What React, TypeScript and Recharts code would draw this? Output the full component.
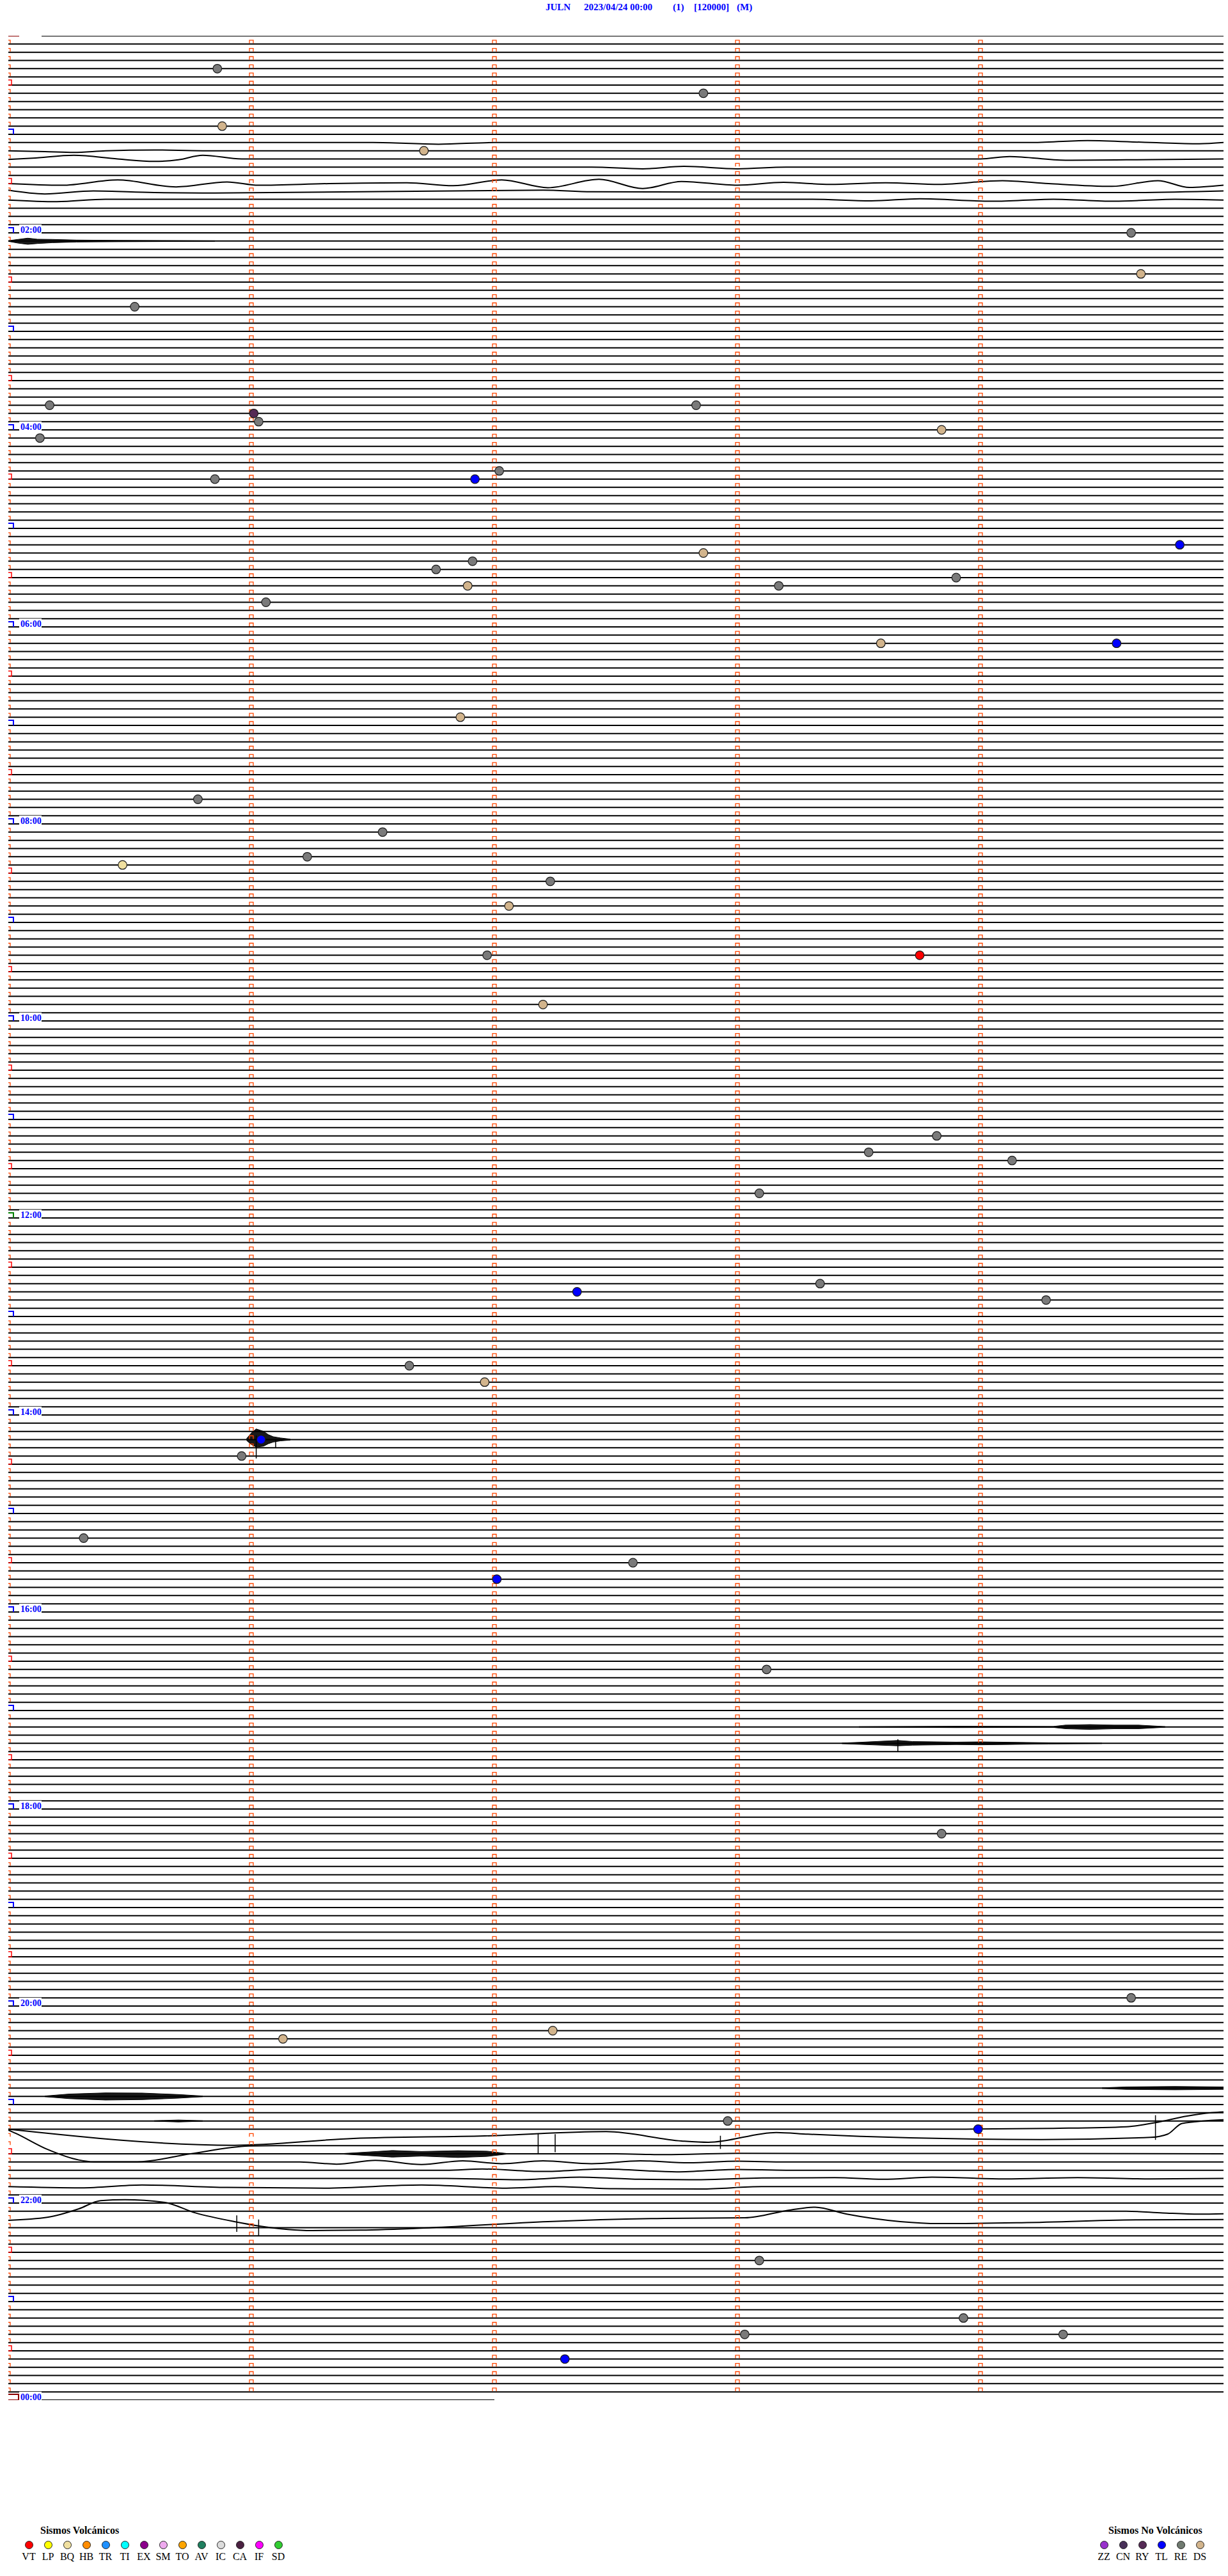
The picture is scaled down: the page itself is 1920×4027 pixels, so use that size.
import React from "react";
import { ComposedChart, Line, Area, Scatter, XAxis, YAxis } from "recharts";

// ---------- layout constants ----------
const W = 1920;
const H = 4027;
const ROW_COUNT = 288; // 5-minute rows for 24 h
const ROW_MINUTES = 5;

// ---------- data ----------
const tickMinutes = [0, 1, 2, 3, 4];
const hourLabels = ["00:00", "02:00", "04:00", "06:00", "08:00", "10:00", "12:00", "14:00", "16:00", "18:00", "20:00", "22:00", "00:00"];
const lastRowEndMinute = 2;

// long-period waveforms: row, [minute, offset in rows (+ = down)]
const waveRows: { row: number; pts: number[][] }[] = [
  { row: 13, pts: [[0, 0], [1.5, 0], [1.77, 0.2], [2.0, 0], [4.2, 0], [4.44, -0.25], [4.7, 0], [4.9, 0.15], [5, 0]] },
  { row: 14, pts: [[0, 0], [0.15, 0.1], [0.27, 0.2], [0.4, 0], [0.6, -0.1], [0.8, 0], [5, 0]] },
  { row: 15, pts: [[0, 0.05], [0.1, -0.1], [0.27, -0.45], [0.45, 0], [0.6, 0.3], [0.7, 0.1], [0.8, -0.45], [0.96, 0], [4.0, 0], [4.12, -0.3], [4.35, 0.15], [4.6, 0.1], [5, 0]] },
  { row: 16, pts: [[0, 0], [2.4, 0], [2.61, 0.2], [2.78, -0.1], [3.0, 0.2], [3.2, 0], [5, 0]] },
  { row: 18, pts: [[0, 0], [0.22, 0.2], [0.45, -0.45], [0.69, 0.4], [0.9, -0.2], [1.03, 0.2], [1.32, 0], [1.64, -0.1], [1.83, 0.26], [2.03, -0.45], [2.22, 0.5], [2.43, -0.52], [2.61, 0.6], [2.77, -0.26], [3.0, 0.2], [3.19, -0.15], [3.38, 0.1], [3.61, -0.1], [3.83, 0.1], [4.09, -0.36], [4.28, 0], [4.54, 0.34], [4.73, -0.36], [4.86, 0.47], [5, 0.2]] },
  { row: 19, pts: [[0, -0.2], [0.15, 0.26], [0.35, -0.1], [0.6, 0.1], [0.85, 0.15], [2.2, -0.2], [2.4, 0], [4.6, 0.1], [5, -0.1]] },
  { row: 20, pts: [[0, 0], [0.2, 0.2], [0.4, -0.1], [3.3, -0.1], [3.55, 0.1], [3.75, -0.15], [4.05, 0.15], [4.3, -0.1], [4.55, 0.15], [4.8, -0.1], [5, 0]] },
  { row: 255, pts: [[0, 0], [3.9, 0], [4.3, -0.1], [4.6, -0.3], [4.72, -0.8], [4.85, -1.6], [4.95, -2.0], [5, -2.1]] },
  { row: 256, pts: [[0, -1.0], [0.93, 0.96], [1.42, 0.13], [1.96, -0.18], [2.46, -0.7], [2.77, 0.44], [2.88, 0.6], [3.16, -0.6], [3.29, -0.39], [3.51, -0.13], [4.25, 0.26], [4.7, 0], [4.77, -0.4], [4.83, -1.7], [5, -2.15]] },
  { row: 257, pts: [[0, -1.9], [0.03, -1.5], [0.16, 0.45], [0.29, 1.75], [0.35, 1.97], [0.53, 1.97], [0.75, 1.0], [0.99, 0.05], [1.1, 0], [5, 0]] },
  { row: 258, pts: [[0, 0], [2.5, 0], [2.7, 0.1], [3.0, -0.05], [5, 0]] },
  { row: 259, pts: [[0, 0], [1.2, 0], [1.35, 0.26], [1.51, -0.2], [1.7, 0.3], [1.87, -0.15], [2.03, 0.2], [2.2, -0.15], [2.4, 0.2], [2.6, -0.15], [2.8, 0.1], [3.0, -0.1], [3.2, 0], [5, 0]] },
  { row: 260, pts: [[0, 0], [1.8, 0], [1.95, -0.15], [2.2, 0.15], [2.45, -0.15], [2.75, 0.2], [3.0, -0.1], [3.2, 0], [5, 0]] },
  { row: 261, pts: [[0, 0], [1.8, 0], [2.1, 0.15], [2.35, -0.15], [2.6, 0.1], [2.85, 0.15], [3.1, -0.05], [3.4, -0.1], [3.6, 0.1], [3.8, -0.15], [4.1, 0.05], [4.4, -0.1], [4.7, 0.05], [5, 0]] },
  { row: 262, pts: [[0, 0], [0.3, 0.15], [0.55, -0.2], [0.9, 0.1], [1.3, 0.18], [1.7, -0.2], [2.05, 0.18], [2.25, 0], [2.5, 0.25], [2.85, 0.28], [3.1, 0], [5, 0]] },
  { row: 265, pts: [[0, 0], [4.6, 0], [4.75, 0.2], [4.9, 0.35], [5, 0.3]] },
  { row: 266, pts: [[0, 0.1], [0.16, -0.26], [0.29, -1.3], [0.38, -2.3], [0.48, -2.4], [0.64, -2.1], [0.77, -0.8], [0.93, 0.26], [1.03, 0.78], [1.25, 1.35], [1.45, 1.3], [1.74, 1.0], [2.22, 0.26], [2.7, -0.13], [3.03, -0.2], [3.22, -1.17], [3.32, -1.5], [3.45, -0.65], [3.67, 0.26], [3.83, 0.5], [4.15, 0.4], [4.64, 0.05], [5, 0]] },
];

// high-frequency bursts: row, [minute, up, down] in rows
const bursts: { row: number; pts: number[][] }[] = [
  { row: 25, pts: [[0.0, 0.04, 0.04], [0.04, 0.2, 0.25], [0.08, 0.35, 0.4], [0.12, 0.22, 0.3], [0.18, 0.2, 0.2], [0.28, 0.12, 0.12], [0.45, 0.08, 0.08], [0.7, 0.05, 0.05], [0.85, 0.03, 0.03]] },
  { row: 171, pts: [[0.98, 0.1, 0.1], [1.0, 0.8, 0.6], [1.02, 1.3, 0.9], [1.05, 1.0, 0.8], [1.07, 0.6, 0.5], [1.09, 0.35, 0.3], [1.12, 0.2, 0.15], [1.16, 0.06, 0.06]] },
  { row: 206, pts: [[3.5, 0.03, 0.03], [3.9, 0.08, 0.08], [4.3, 0.06, 0.06], [4.35, 0.22, 0.22], [4.45, 0.28, 0.3], [4.55, 0.22, 0.22], [4.65, 0.22, 0.22], [4.76, 0.04, 0.04]] },
  { row: 208, pts: [[3.43, 0.04, 0.04], [3.5, 0.12, 0.12], [3.66, 0.35, 0.3], [3.72, 0.22, 0.22], [3.9, 0.15, 0.15], [4.0, 0.18, 0.18], [4.1, 0.14, 0.14], [4.28, 0.07, 0.07], [4.5, 0.03, 0.03]] },
  { row: 250, pts: [[4.5, 0.04, 0.04], [4.6, 0.15, 0.15], [4.8, 0.2, 0.2], [5.0, 0.15, 0.15]] },
  { row: 251, pts: [[0.15, 0.04, 0.04], [0.25, 0.28, 0.28], [0.4, 0.42, 0.45], [0.55, 0.4, 0.4], [0.7, 0.22, 0.22], [0.8, 0.04, 0.04]] },
  { row: 254, pts: [[0.6, 0.03, 0.03], [0.7, 0.12, 0.12], [0.8, 0.03, 0.03]] },
  { row: 258, pts: [[1.38, 0.04, 0.04], [1.5, 0.25, 0.25], [1.58, 0.4, 0.4], [1.7, 0.28, 0.28], [1.85, 0.38, 0.45], [1.97, 0.32, 0.32], [2.05, 0.04, 0.04]] },
];

// isolated spikes: minute, from row, to row
const spikes = [
  [1.02, 170.5, 173.3], [1.1, 171, 172], [3.66, 207.5, 209], [2.18, 255.5, 258.0], [2.25, 255.6, 257.8],
  [2.93, 255.8, 257.4], [4.72, 253.3, 256.3], [0.94, 265.5, 267.5], [1.03, 266, 268],
];

// classified events: minute within row, row, type
const events: { m: number; row: number; type: string }[] = [
  { m: 0.86, row: 4, type: "RE" }, { m: 2.86, row: 7, type: "RE" }, { m: 0.88, row: 11, type: "DS" },
  { m: 1.71, row: 14, type: "DS" }, { m: 4.62, row: 24, type: "RE" }, { m: 4.66, row: 29, type: "DS" },
  { m: 0.52, row: 33, type: "RE" }, { m: 0.17, row: 45, type: "RE" }, { m: 2.83, row: 45, type: "RE" },
  { m: 1.01, row: 46, type: "RY" }, { m: 1.03, row: 47, type: "RE" }, { m: 0.13, row: 49, type: "RE" },
  { m: 3.84, row: 48, type: "DS" }, { m: 2.02, row: 53, type: "RE" }, { m: 0.85, row: 54, type: "RE" },
  { m: 1.92, row: 54, type: "TL" }, { m: 4.82, row: 62, type: "TL" }, { m: 2.86, row: 63, type: "DS" },
  { m: 1.91, row: 64, type: "RE" }, { m: 1.76, row: 65, type: "RE" }, { m: 1.89, row: 67, type: "DS" },
  { m: 3.17, row: 67, type: "RE" }, { m: 3.9, row: 66, type: "RE" }, { m: 1.06, row: 69, type: "RE" },
  { m: 3.59, row: 74, type: "DS" }, { m: 4.56, row: 74, type: "TL" }, { m: 1.86, row: 83, type: "DS" },
  { m: 0.78, row: 93, type: "RE" }, { m: 1.54, row: 97, type: "RE" }, { m: 1.23, row: 100, type: "RE" },
  { m: 0.47, row: 101, type: "BQ" }, { m: 2.23, row: 103, type: "RE" }, { m: 2.06, row: 106, type: "DS" },
  { m: 1.97, row: 112, type: "RE" }, { m: 3.75, row: 112, type: "VT" }, { m: 2.2, row: 118, type: "DS" },
  { m: 3.82, row: 134, type: "RE" }, { m: 3.54, row: 136, type: "RE" }, { m: 4.13, row: 137, type: "RE" },
  { m: 3.09, row: 141, type: "RE" }, { m: 3.34, row: 152, type: "RE" }, { m: 2.34, row: 153, type: "TL" },
  { m: 4.27, row: 154, type: "RE" }, { m: 1.65, row: 162, type: "RE" }, { m: 1.96, row: 164, type: "DS" },
  { m: 1.04, row: 171, type: "TL" }, { m: 0.96, row: 173, type: "RE" }, { m: 0.31, row: 183, type: "RE" },
  { m: 2.57, row: 186, type: "RE" }, { m: 2.01, row: 188, type: "TL" }, { m: 3.12, row: 199, type: "RE" },
  { m: 3.84, row: 219, type: "RE" }, { m: 4.62, row: 239, type: "RE" }, { m: 1.13, row: 244, type: "DS" },
  { m: 2.24, row: 243, type: "DS" }, { m: 2.96, row: 254, type: "RE" }, { m: 3.99, row: 255, type: "TL" },
  { m: 3.09, row: 271, type: "RE" }, { m: 3.93, row: 278, type: "RE" }, { m: 4.34, row: 280, type: "RE" },
  { m: 3.03, row: 280, type: "RE" }, { m: 2.29, row: 283, type: "TL" },
];

const volcanicCodes = ["VT", "LP", "BQ", "HB", "TR", "TI", "EX", "SM", "TO", "AV", "IC", "CA", "IF", "SD"];
const volcanicColors = ["#ff0000", "#ffff00", "#f0e0a0", "#ff8c00", "#1e90ff", "#00ffff", "#8b008b", "#eeaaee", "#ffa500", "#1f7f5f", "#dcdcdc", "#4b2142", "#ff00ff", "#32cd32"];
const nonVolcanicCodes = ["ZZ", "CN", "RY", "TL", "RE", "DS"];
const nonVolcanicColors = ["#9932cc", "#483058", "#552a55", "#0000ff", "#707a70", "#d2b48c"];

const typeColor: Record<string, string> = {};
volcanicCodes.forEach((c, i) => (typeColor[c] = volcanicColors[i]));
nonVolcanicCodes.forEach((c, i) => (typeColor[c] = nonVolcanicColors[i]));
typeColor.RE = "#7a7a7a";

// ---------- derived chart data ----------
const waveSet = new Set(waveRows.map((w) => w.row));
const baseLineData: { x: number; y: number | null }[] = [];
for (let r = 0; r <= ROW_COUNT; r++) {
  if (waveSet.has(r)) continue;
  const end = r === ROW_COUNT ? lastRowEndMinute : ROW_MINUTES;
  baseLineData.push({ x: 0, y: r }, { x: end, y: r }, { x: end, y: null });
}

const tickData: { x: number; y: number; kind: string }[] = [];
for (let r = 0; r < ROW_COUNT; r++) {
  tickMinutes.forEach((m) => {
    if (m === 0 && r % 12 === 0) return;
    tickData.push({ x: m, y: r, kind: m === 0 && r % 12 === 6 ? "half" : "tick" });
  });
}

const hourBoxData: { x: number; y: number; hour: number }[] = [];
for (let r = 0; r <= ROW_COUNT; r += 12) hourBoxData.push({ x: 0, y: r, hour: r / 12 });

const labelData = hourLabels.map((t, i) => ({ x: 0, y: i * 24, text: t }));
const eventData = events.map((e) => ({ x: e.m, y: e.row, type: e.type }));

// ---------- shapes ----------
const TickShape = (p: any) => {
  const { cx, cy, payload } = p;
  if (payload.kind === "half") {
    return <rect x={cx - 3} y={cy - 8} width={8} height={8} fill="none" stroke="#ff0000" strokeWidth={1.5} />;
  }
  return <path d={`M${cx - 3},${cy - 1} V${cy - 6} H${cx + 3} V${cy - 1}`} fill="none" stroke="#ff4500" strokeWidth={1.3} />;
};

const HourBoxShape = (p: any) => {
  const { cx, cy, payload } = p;
  const h = payload.hour;
  if (h % 24 === 0) {
    return <rect x={cx - 3} y={cy - 9} width={19} height={9} fill="#fff" stroke="#8b0000" strokeWidth={2} />;
  }
  const col = h === 12 ? "#008000" : "#0000ff";
  return <path d={`M${cx - 4},${cy} V${cy - 8} H${cx + 8} V${cy}`} fill="none" stroke={col} strokeWidth={2} />;
};

const LabelShape = (p: any) => {
  const { cx, cy, payload } = p;
  return (
    <g>
      <rect x={cx + 17} y={cy - 13} width={35} height={15} fill="#fff" />
      <text x={cx + 19} y={cy} fill="#0000ff" fontFamily="'Liberation Serif', serif" fontWeight="bold" fontSize={14}>
        {payload.text}
      </text>
    </g>
  );
};

const EventShape = (p: any) => {
  const { cx, cy, payload } = p;
  return <circle cx={cx} cy={cy} r={6.8} fill={typeColor[payload.type]} stroke="#1a1a1a" strokeWidth={1.2} />;
};

// ---------- legend ----------
const serif = "'Liberation Serif', 'Times New Roman', serif";

const LegendGroup = ({ title, titleLeft, codes, colors, firstX }: any) => (
  <>
    <div style={{ position: "absolute", left: titleLeft, top: 3948, fontFamily: serif, fontWeight: "bold", fontSize: 16, lineHeight: "16px", whiteSpace: "nowrap" }}>
      {title}
    </div>
    {codes.map((c: string, i: number) => (
      <React.Fragment key={c}>
        <div
          style={{
            position: "absolute", left: firstX + i * 30 - 6.5, top: 3971.5, width: 13, height: 13, borderRadius: "50%",
            background: colors[i], boxSizing: "border-box", border: "1px solid #222",
          }}
        />
        <div style={{ position: "absolute", left: firstX + i * 30 - 15, width: 30, top: 3989, textAlign: "center", fontFamily: serif, fontSize: 16, lineHeight: "16px" }}>
          {c}
        </div>
      </React.Fragment>
    ))}
  </>
);

const titleParts = [
  { t: "JULN", x: 853 }, { t: "2023/04/24 00:00", x: 913 }, { t: "(1)", x: 1052 }, { t: "[120000]", x: 1085 }, { t: "(M)", x: 1152 },
];

export default function App() {
  return (
    <div style={{ position: "absolute", left: 0, top: 0, width: W, height: H, background: "#fff", overflow: "hidden" }}>
      {titleParts.map((p) => (
        <div key={p.t} style={{ position: "absolute", left: p.x, top: 4, fontFamily: serif, fontWeight: "bold", fontSize: 15, lineHeight: "15px", color: "#0000ff", whiteSpace: "nowrap" }}>
          {p.t}
        </div>
      ))}
      <div style={{ position: "absolute", left: 0, top: 0 }}>
        <ComposedChart width={W} height={H} margin={{ top: 56, right: 7, bottom: 275, left: 13 }}>
          <XAxis type="number" dataKey="x" domain={[0, ROW_MINUTES]} hide allowDataOverflow />
          <YAxis type="number" dataKey="y" domain={[0, ROW_COUNT]} reversed hide allowDataOverflow />
          <Line data={baseLineData} dataKey="y" type="linear" stroke="#000" strokeWidth={2} dot={false} activeDot={false} connectNulls={false} isAnimationActive={false} />
          {waveRows.map((w) => (
            <Line
              key={`w${w.row}`}
              data={w.pts.map(([m, o]) => ({ x: m, y: w.row + o }))}
              dataKey="y" type="monotone" stroke="#000" strokeWidth={2} dot={false} activeDot={false} isAnimationActive={false}
            />
          ))}
          {bursts.map((b) => (
            <Area
              key={`b${b.row}`}
              data={b.pts.map(([m, up, dn]) => ({ x: m, v: [b.row - up, b.row + dn] }))}
              dataKey="v" type="linear" stroke="#000" strokeWidth={1} fill="#000" fillOpacity={0.9} dot={false} activeDot={false} isAnimationActive={false}
            />
          ))}
          {spikes.map(([m, a, b], i) => (
            <Line key={`s${i}`} data={[{ x: m, y: a }, { x: m, y: b }]} dataKey="y" type="linear" stroke="#000" strokeWidth={1.5} dot={false} activeDot={false} isAnimationActive={false} />
          ))}
          <Scatter data={tickData} dataKey="y" shape={TickShape} isAnimationActive={false} />
          <Scatter data={hourBoxData} dataKey="y" shape={HourBoxShape} isAnimationActive={false} />
          <Scatter data={labelData} dataKey="y" shape={LabelShape} isAnimationActive={false} />
          <Scatter data={eventData} dataKey="y" shape={EventShape} isAnimationActive={false} />
        </ComposedChart>
      </div>
      <LegendGroup title="Sismos Volcánicos" titleLeft={63} codes={volcanicCodes} colors={volcanicColors} firstX={45} />
      <LegendGroup title="Sismos No Volcánicos" titleLeft={1733} codes={nonVolcanicCodes} colors={nonVolcanicColors} firstX={1726} />
    </div>
  );
}
